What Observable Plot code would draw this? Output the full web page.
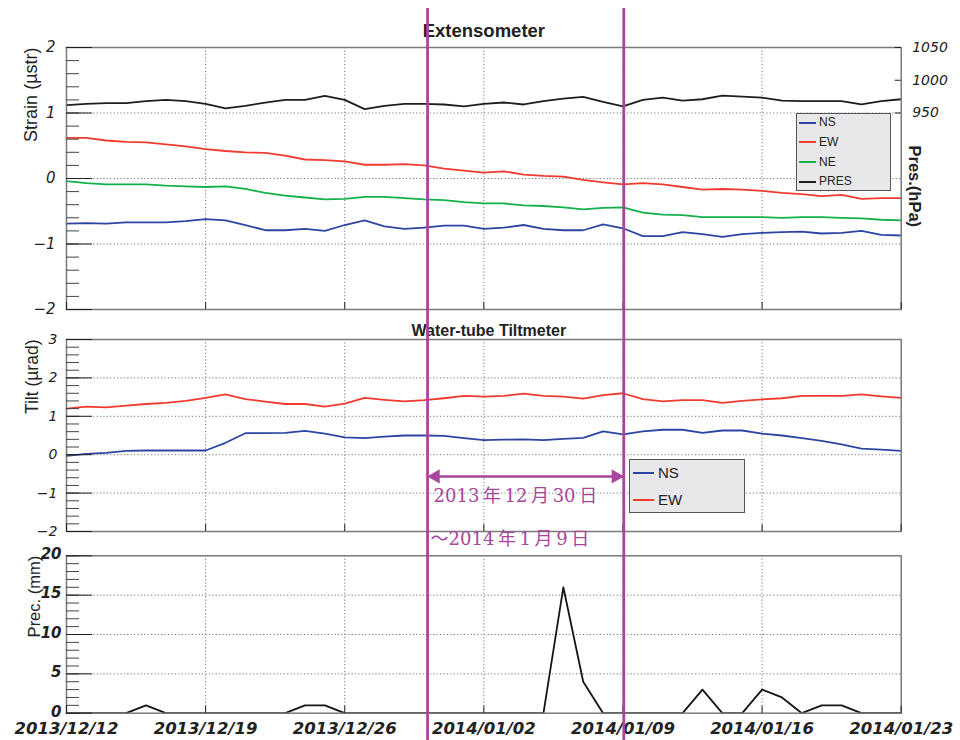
<!DOCTYPE html>
<html><head><meta charset="utf-8">
<script src="https://cdn.jsdelivr.net/npm/d3@7"></script>
<script src="https://cdn.jsdelivr.net/npm/@observablehq/plot@0.6"></script>
<style>
body{margin:0;background:#fff;}
#wrap{position:relative;width:960px;height:740px;overflow:hidden;font-family:"Liberation Sans",Arial,sans-serif;color:#222;}
.legend{position:absolute;background:#e8e8ea;border:1.5px solid #555;box-sizing:border-box;}
.legend .ln{position:absolute;height:2px;}
.legend .lb{position:absolute;white-space:nowrap;color:#222;}
</style></head><body><div id="wrap"></div>
<script>
// ---------- data ----------
const startDate = "2013-12-12";
const endDate = "2014-01-23";
const weekTicks = ["2013-12-12","2013-12-19","2013-12-26","2014-01-02","2014-01-09","2014-01-16","2014-01-23"];
const markDates = ["2013-12-30T04:00Z","2014-01-09T01:00Z"];

const strainNS = [-0.69,-0.68,-0.69,-0.67,-0.67,-0.67,-0.65,-0.62,-0.64,-0.71,-0.79,-0.79,-0.77,-0.80,-0.71,-0.64,-0.73,-0.77,-0.75,-0.72,-0.72,-0.77,-0.75,-0.71,-0.77,-0.79,-0.79,-0.70,-0.76,-0.88,-0.88,-0.82,-0.85,-0.89,-0.85,-0.83,-0.82,-0.81,-0.84,-0.83,-0.80,-0.86,-0.87];
const strainEW = [0.62,0.62,0.58,0.56,0.55,0.52,0.49,0.45,0.42,0.40,0.39,0.35,0.29,0.28,0.26,0.21,0.21,0.22,0.20,0.15,0.12,0.09,0.11,0.06,0.04,0.03,-0.02,-0.06,-0.09,-0.07,-0.09,-0.13,-0.17,-0.16,-0.17,-0.19,-0.22,-0.24,-0.27,-0.25,-0.31,-0.30,-0.30];
const strainNE = [-0.04,-0.07,-0.09,-0.09,-0.09,-0.11,-0.12,-0.13,-0.12,-0.16,-0.22,-0.26,-0.29,-0.32,-0.31,-0.28,-0.28,-0.30,-0.32,-0.33,-0.36,-0.38,-0.38,-0.41,-0.42,-0.44,-0.47,-0.45,-0.44,-0.52,-0.55,-0.56,-0.59,-0.59,-0.59,-0.59,-0.60,-0.59,-0.59,-0.60,-0.61,-0.63,-0.64];
const pressure = [962,964,965,965,968,970,968,964,957,961,966,970,970,976,970,956,961,964,964,963,960,964,966,963,968,972,974.5,967,960,970,973.5,969,971,976.5,975,973.5,969,968,968,968,963,968,971];
const tiltNS = [-0.03,0.02,0.05,0.10,0.11,0.11,0.11,0.11,0.31,0.56,0.56,0.57,0.62,0.55,0.45,0.43,0.47,0.50,0.50,0.49,0.43,0.38,0.39,0.40,0.38,0.41,0.44,0.61,0.53,0.61,0.65,0.65,0.57,0.63,0.63,0.55,0.50,0.43,0.36,0.27,0.16,0.13,0.10];
const tiltEW = [1.20,1.25,1.23,1.28,1.32,1.35,1.40,1.48,1.57,1.45,1.38,1.32,1.32,1.25,1.33,1.48,1.43,1.39,1.42,1.47,1.53,1.51,1.53,1.59,1.53,1.51,1.46,1.55,1.60,1.45,1.39,1.42,1.42,1.35,1.40,1.44,1.47,1.53,1.53,1.53,1.57,1.52,1.48];
const precip = [0,0,0,0,1,0,0,0,0,0,0,0,1,1,0,0,0,0,0,0,0,0,0,0,0,16,4,0,0,0,0,0,3,0,0,3,2,0,1,1,0,0,0];

const strainTicks = [-2,-1,0,1,2];
const presTicks = [950,1000,1050];
const tiltTicks = [-2,-1,0,1,2,3];
const precTicks = [0,5,10,15,20];

const annot = {arrowY:-0.565, line1Y:-1.235, line2Y:-2.345,
  line1:"2013\u2009年\u200912\u2009月\u200930\u2009日", line2:"〜2014\u2009年\u20091\u2009月\u20099\u2009日"};

// ---------- helpers ----------
const start = new Date(startDate);
const dates = strainNS.map((_, i) => d3.utcDay.offset(start, i));
const weeks = weekTicks.map(d => new Date(d));
const marks = markDates.map(d => new Date(d));
const presToStrain = p => 1 + (p - 950) / 100;
const strainToPres = s => 950 + (s - 1) * 100;
const intFmt = v => (v < 0 ? "\u2212" : "") + Math.abs(Math.round(v));
const rows = dates.map((date, i) => ({date, NS: strainNS[i], EW: strainEW[i], NE: strainNE[i], PRES: pressure[i],
  tNS: tiltNS[i], tEW: tiltEW[i], prec: precip[i]}));

const W = 960, ML = 66, MR = 59.3, FW = W - ML - MR;
const C = {NS:"#2c45a3", EW:"#f23a2e", NE:"#14b04b", PRES:"#1e1e1e"};
const PURPLE = "#a8459c";
const xScale = {type:"utc", domain:[new Date(startDate), new Date(endDate)]};
const grid = {stroke:"#777", strokeDasharray:"1.2,2.2", strokeWidth:1};
const tickFont = {fontFamily:"DejaVu Sans", fontStyle:"italic"};
const baseStyle = {fontFamily:"Liberation Sans, Arial, sans-serif", color:"#222", background:"transparent", overflow:"visible"};
const wrap = document.getElementById("wrap");
function place(el, top){ el.style.position="absolute"; el.style.left="0px"; el.style.top=top+"px"; wrap.appendChild(el); }
const minorRange = (a, b, s) => d3.range(Math.round((b - a) / s) + 1).map(k => +(a + k * s).toFixed(4));

// ---------- panel 1 : Extensometer ----------
const p1 = {H:320, T:47, B:11}; p1.FH = p1.H - p1.T - p1.B;
place(Plot.plot({
  width:W, height:p1.H, marginLeft:ML, marginRight:MR, marginTop:p1.T, marginBottom:p1.B,
  x:{...xScale, axis:null}, y:{domain:[-2,2]}, style:baseStyle,
  marks:[
    Plot.ruleY(strainTicks.slice(1,-1), grid),
    Plot.ruleX(weeks.slice(1,-1), grid),
    Plot.line(rows, {x:"date", y:"NS", stroke:C.NS, strokeWidth:1.8}),
    Plot.line(rows, {x:"date", y:"EW", stroke:C.EW, strokeWidth:1.8}),
    Plot.line(rows, {x:"date", y:"NE", stroke:C.NE, strokeWidth:1.8}),
    Plot.line(rows, {x:"date", y:d => presToStrain(d.PRES), stroke:C.PRES, strokeWidth:1.8}),
    Plot.frame({stroke:"#7a7a7a", strokeWidth:1.5}),
    Plot.tickY(minorRange(-2,2,0.2), {insetRight:FW-13, stroke:"#444"}),
    Plot.tickY(strainTicks, {insetRight:FW-26, stroke:"#222"}),
    Plot.tickY(presTicks.map(presToStrain), {insetLeft:FW-6, stroke:"#222"}),
    Plot.tickX(weeks, {insetTop:p1.FH-7, stroke:"#222"}),
    Plot.axisY(strainTicks, {tickSize:0, tickPadding:11, label:null, fontSize:15, tickFormat:intFmt, ...tickFont}),
    Plot.axisY(presTicks.map(presToStrain), {anchor:"right", tickSize:0, tickPadding:11, label:null, fontSize:14,
      tickFormat:v => String(Math.round(strainToPres(v))), ...tickFont}),
    Plot.text(["Extensometer"], {frameAnchor:"top", dy:-10.3, lineAnchor:"bottom", fontWeight:"bold", fontSize:18.5}),
    Plot.text(["Strain (µstr)"], {frameAnchor:"top-left", dx:-42, rotate:-90, textAnchor:"end", fontSize:18}),
    Plot.text(["Pres.(hPa)"], {frameAnchor:"top-right", dx:19.5, dy:98, rotate:90, textAnchor:"start", fontWeight:"bold", fontSize:16.5})
  ]
}), 0);

// ---------- panel 2 : Water-tube Tiltmeter ----------
const p2 = {top:320, H:215, T:19, B:4}; p2.FH = p2.H - p2.T - p2.B;
place(Plot.plot({
  width:W, height:p2.H, marginLeft:ML, marginRight:MR, marginTop:p2.T, marginBottom:p2.B,
  x:{...xScale, axis:null}, y:{domain:[-2,3]}, style:baseStyle,
  marks:[
    Plot.ruleY(tiltTicks.slice(1,-1), grid),
    Plot.ruleX(weeks.slice(1,-1), grid),
    Plot.line(rows, {x:"date", y:"tEW", stroke:C.EW, strokeWidth:1.8}),
    Plot.line(rows, {x:"date", y:"tNS", stroke:C.NS, strokeWidth:1.8}),
    Plot.frame({stroke:"#7a7a7a", strokeWidth:1.5}),
    Plot.tickY(minorRange(-2,3,0.2), {insetRight:FW-13, stroke:"#444"}),
    Plot.tickY(tiltTicks, {insetRight:FW-26, stroke:"#222"}),
    Plot.tickX(weeks, {insetTop:p2.FH-7, stroke:"#222"}),
    Plot.axisY(tiltTicks, {tickSize:0, tickPadding:9, label:null, fontSize:14, tickFormat:intFmt, ...tickFont}),
    Plot.text(["Water-tube Tiltmeter"], {frameAnchor:"top", dx:5, dy:-3.3, lineAnchor:"bottom", fontWeight:"bold", fontSize:16}),
    Plot.text(["Tilt (µrad)"], {frameAnchor:"top-left", dx:-41, rotate:-90, textAnchor:"end", fontSize:17.5})
  ]
}), p2.top);

// ---------- panel 3 : Precipitation ----------
const p3 = {top:535, H:205, T:20.3, B:27.3}; p3.FH = p3.H - p3.T - p3.B;
place(Plot.plot({
  width:W, height:p3.H, marginLeft:ML, marginRight:MR, marginTop:p3.T, marginBottom:p3.B,
  x:{...xScale}, y:{domain:[0,20]}, style:baseStyle,
  marks:[
    Plot.ruleY(precTicks.slice(1,-1), grid),
    Plot.ruleX(weeks.slice(1,-1), grid),
    Plot.line(rows, {x:"date", y:"prec", stroke:"#151515", strokeWidth:1.8}),
    Plot.frame({stroke:"#7a7a7a", strokeWidth:1.5}),
    Plot.tickY(minorRange(0,20,1), {insetRight:FW-13, stroke:"#444"}),
    Plot.tickY(precTicks, {insetRight:FW-26, stroke:"#222"}),
    Plot.tickX(weeks, {insetTop:p3.FH-7, stroke:"#222"}),
    Plot.axisY(precTicks, {tickSize:0, tickPadding:5, label:null, fontSize:15, fontWeight:"bold", tickFormat:intFmt, dy:-1.5, ...tickFont}),
    Plot.axisX(weeks, {tickSize:0, tickPadding:9, label:null, tickFormat:d3.utcFormat("%Y/%m/%d"), fontSize:16.5, fontWeight:"bold", ...tickFont}),
    Plot.text(["Prec. (mm)"], {frameAnchor:"top-left", dx:-38, rotate:-90, textAnchor:"end", fontSize:16.5})
  ]
}), p3.top);

// ---------- legends ----------
function legend(left, top, w, h, items, font, lx0, lx1, tx){
  const box = document.createElement("div");
  box.className = "legend";
  Object.assign(box.style, {left:left+"px", top:top+"px", width:w+"px", height:h+"px"});
  items.forEach(([name, color, cy]) => {
    const ln = document.createElement("div"); ln.className = "ln";
    Object.assign(ln.style, {left:lx0+"px", width:(lx1-lx0)+"px", top:(cy-1)+"px", background:color});
    const lb = document.createElement("div"); lb.className = "lb"; lb.textContent = name;
    Object.assign(lb.style, {left:tx+"px", top:(cy - font*0.6)+"px", fontSize:font+"px", lineHeight:(font*1.2)+"px"});
    box.appendChild(ln); box.appendChild(lb);
  });
  wrap.appendChild(box);
}
legend(796, 113, 95, 78, [["NS",C.NS,8.5],["EW",C.EW,28],["NE",C.NE,48],["PRES",C.PRES,67.5]], 12, 2, 19, 22);
legend(629, 459, 116, 54, [["NS",C.NS,12.5],["EW",C.EW,40]], 15, 3, 24, 28);

// ---------- overlay : period marker ----------
const ov = Plot.plot({
  width:W, height:740, marginLeft:ML, marginRight:MR, marginTop:8, marginBottom:0,
  x:{...xScale, axis:null}, y:{domain:[-2,3], range:[531,339], axis:null}, style:{...baseStyle, pointerEvents:"none"},
  marks:[
    Plot.ruleX(marks, {stroke:PURPLE, strokeWidth:2.8}),
    Plot.ruleY([{y:annot.arrowY, x1:marks[0], x2:marks[1]}], {y:"y", x1:"x1", x2:"x2", stroke:PURPLE, strokeWidth:2.5}),
    Plot.dot([{x:marks[0], y:annot.arrowY}], {x:"x", y:"y", symbol:"triangle", r:5.3, fill:PURPLE, rotate:-90, dx:8}),
    Plot.dot([{x:marks[1], y:annot.arrowY}], {x:"x", y:"y", symbol:"triangle", r:5.3, fill:PURPLE, rotate:90, dx:-8}),
    Plot.text([{x:marks[0], y:annot.line1Y, t:annot.line1}], {x:"x", y:"y", text:"t", textAnchor:"start", lineAnchor:"bottom", dx:6,
      fill:PURPLE, fontSize:18, fontFamily:"'DejaVu Serif', 'Noto Sans CJK JP', serif"}),
    Plot.text([{x:marks[0], y:annot.line2Y, t:annot.line2}], {x:"x", y:"y", text:"t", textAnchor:"start", lineAnchor:"bottom", dx:3,
      fill:PURPLE, fontSize:18, fontFamily:"'DejaVu Serif', 'Noto Sans CJK JP', serif"})
  ]
});
place(ov, 0);
</script></body></html>
